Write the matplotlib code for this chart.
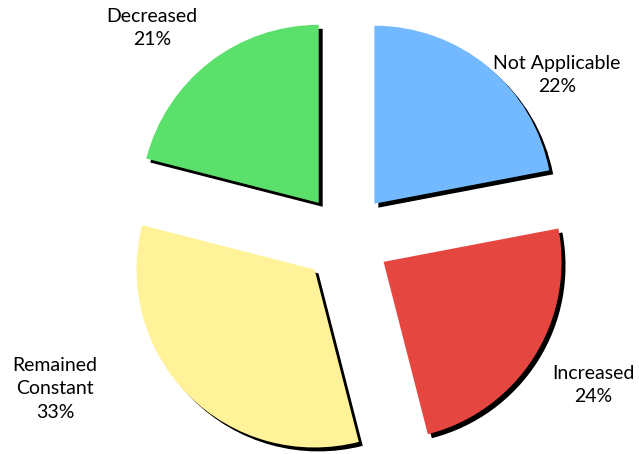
import matplotlib.pyplot as plt

# Share of responses
categories = ['Not Applicable', 'Increased', 'Remained\nConstant', 'Decreased']
values = [22, 24, 33, 21]
colors = ['#73B9FF', '#E54640', '#FFF299', '#5CE06C']

# label block centres (data units, pie radius = 1)
label_pos = [(1.185, 0.916), (1.388, -0.826), (-1.635, -0.848), (-1.09, 1.18)]

fig = plt.figure(figsize=(6.39, 4.54), dpi=100)
ax = fig.add_axes([0, 0, 1, 1])

wedges, _ = ax.pie(values, colors=colors, startangle=90, counterclock=False,
                   explode=[0.25] * len(values), radius=1,
                   shadow={'ox': 0.016, 'oy': -0.016, 'shade': 1.0, 'alpha': 1.0},
                   wedgeprops={'linewidth': 0})

for name, v, (x, y) in zip(categories, values, label_pos):
    ax.text(x, y, f'{name}\n{v}%', ha='center', va='center',
            fontsize=14, family='Lato', linespacing=1.45, color='black')

ax.set_aspect('auto')
ax.set_xlim(-346 / 178, (639 - 346) / 178)
ax.set_ylim(-(454 - 238) / 178, 238 / 178)
ax.axis('off')

fig.savefig('out.png', dpi=100)
